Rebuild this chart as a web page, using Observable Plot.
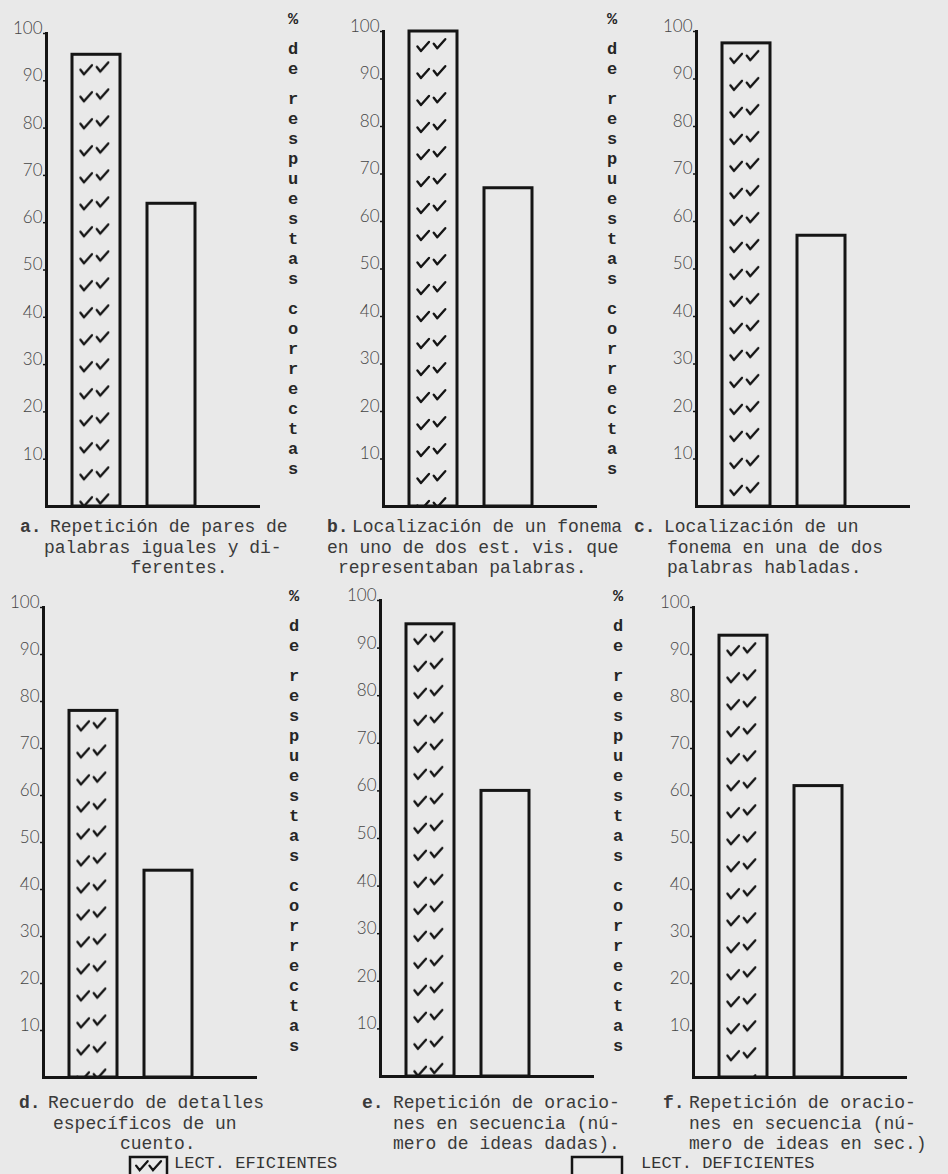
<!DOCTYPE html>
<html>
<head>
<meta charset="utf-8">
<script src="https://cdn.jsdelivr.net/npm/d3@7"></script>
<script src="https://cdn.jsdelivr.net/npm/@observablehq/plot@0.6"></script>
<style>
  html, body { margin: 0; padding: 0; background: #e9e9e9; }
  #fig { position: relative; width: 948px; height: 1174px; overflow: hidden; background: #e9e9e9; }
  .panel { position: absolute; }
  .panel svg { overflow: visible; }
  .cap { position: absolute; font-family: "Liberation Mono", monospace; font-size: 18px; color: #3a3a3a; white-space: pre; line-height: 20.5px; }
  .vlab { position: absolute; width: 18px; font-family: "Liberation Mono", monospace; font-size: 17px; font-weight: bold; color: #262626; text-align: center; }
  .vlab div { height: 20px; line-height: 20px; }
  .vlab .gap { height: 10px; }
  .leg { position: absolute; font-family: "Liberation Mono", monospace; font-size: 17px; color: #333; white-space: pre; }
</style>
</head>
<body>
<div id="fig"></div>
<script>
// ---------------- data ----------------
const panelIds = ["a", "b", "c", "d", "e", "f"];
const groups = ["LECT. EFICIENTES", "LECT. DEFICIENTES"];
const eficientes = [95.5, 100, 97.5, 78, 95, 94];
const deficientes = [64, 67, 57, 44, 60, 62];
const yTicks = [10, 20, 30, 40, 50, 60, 70, 80, 90, 100];
const captionLabels = ["a.", "b.", "c.", "d.", "e.", "f."];
const captionLines = [
  ["Repetición de pares de", "palabras iguales y di-", "        ferentes."],
  ["Localización de un fonema", "en uno de dos est. vis. que", "representaban palabras."],
  ["Localización de un", "fonema en una de dos", "palabras habladas."],
  ["Recuerdo de detalles", "específicos de un", "cuento."],
  ["Repetición de oracio-", "nes en secuencia (nú-", "mero de ideas dadas)."],
  ["Repetición de oracio-", "nes en secuencia (nú-", "mero de ideas en sec.)"]
];
const axisLabelWords = ["%", "de", "respuestas", "correctas"];

// ---------------- layout ----------------
const INK = "#151515";
const FRAME_W = 214;
const M = {l: 44, r: 8, t: 18, b: 6};
const panelLayout = [
  {x: 46,  y: 33,  h: 473},
  {x: 383, y: 31,  h: 475},
  {x: 696, y: 31,  h: 475},
  {x: 43,  y: 607, h: 470},
  {x: 380, y: 600, h: 476},
  {x: 693, y: 607, h: 470}
];
const captionLayout = [
  {lx: 20,  lines: [50, 44, 44],   y: 517},
  {lx: 327, lines: [352, 327, 338], y: 517},
  {lx: 634, lines: [664, 667, 667], y: 517},
  {lx: 19,  lines: [48, 53, 120],  y: 1093},
  {lx: 362, lines: [393, 393, 393], y: 1093},
  {lx: 663, lines: [689, 689, 689], y: 1093}
];
const vlabLayout = [
  {x: 284, y: 10}, {x: 603, y: 10},
  {x: 285, y: 587}, {x: 609, y: 587}
];

const fig = document.getElementById("fig");
const NS = "http://www.w3.org/2000/svg";

function checkPath(w, tileH) {
  const c1x = w * 0.28 - 5, c2x = w * 0.62 - 5;
  return `M${c1x},${tileH * 0.35} l3.5,4.5 l8,-9 ` +
         `M${c2x},${tileH * 0.25} l3.5,4.5 l8,-9`;
}

function addCheckPattern(svg, id) {
  const barGroup = svg.querySelector('g[aria-label="bar"]');
  const rect = barGroup.querySelector("rect");
  const x = +rect.getAttribute("x"), y = +rect.getAttribute("y"), w = +rect.getAttribute("width");
  const tileH = 27;
  const defs = document.createElementNS(NS, "defs");
  const pat = document.createElementNS(NS, "pattern");
  pat.setAttribute("id", "chk-" + id);
  pat.setAttribute("patternUnits", "userSpaceOnUse");
  pat.setAttribute("x", x);
  pat.setAttribute("y", y + 6);
  pat.setAttribute("width", w);
  pat.setAttribute("height", tileH);
  const p = document.createElementNS(NS, "path");
  p.setAttribute("d", checkPath(w, tileH));
  p.setAttribute("fill", "none");
  p.setAttribute("stroke", INK);
  p.setAttribute("stroke-width", "2.4");
  p.setAttribute("stroke-linecap", "round");
  p.setAttribute("stroke-linejoin", "round");
  pat.appendChild(p);
  defs.appendChild(pat);
  svg.insertBefore(defs, svg.firstChild);
}

panelIds.forEach((id, i) => {
  const L = panelLayout[i];
  const rows = groups.map((g, j) => ({group: g, value: j === 0 ? eficientes[i] : deficientes[i]}));
  const svg = Plot.plot({
    width: M.l + FRAME_W + M.r,
    height: M.t + L.h + M.b,
    marginLeft: M.l, marginRight: M.r, marginTop: M.t, marginBottom: M.b,
    style: {background: "transparent", overflow: "visible", fontFamily: "Lato"},
    x: {type: "band", domain: groups, paddingInner: 0.355, paddingOuter: 0.59, align: 0.29, axis: null},
    y: {domain: [0, 100]},
    marks: [
      Plot.barY(rows.filter(d => d.group === groups[0]), {x: "group", y: "value", fill: `url(#chk-${id})`, stroke: INK, strokeWidth: 3}),
      Plot.barY(rows.filter(d => d.group === groups[1]), {x: "group", y: "value", fill: "none", stroke: INK, strokeWidth: 3}),
      Plot.axisY(yTicks, {tickSize: 3, tickFormat: () => "", label: null, stroke: INK, strokeWidth: 1.5}),
      Plot.axisY(yTicks, {tickSize: 0, tickPadding: 4, dy: -5, label: null, fontSize: 17, fill: "#454545", fontFamily: "Lato", fontWeight: 300}),
      Plot.frame({anchor: "left", stroke: INK, strokeWidth: 3}),
      Plot.ruleY([0], {stroke: INK, strokeWidth: 3})
    ]
  });
  const div = document.createElement("div");
  div.className = "panel";
  div.style.left = (L.x - M.l) + "px";
  div.style.top = (L.y - M.t) + "px";
  div.appendChild(svg);
  fig.appendChild(div);
  addCheckPattern(svg, id);

  // caption
  const C = captionLayout[i];
  const lab = document.createElement("div");
  lab.className = "cap";
  lab.style.left = C.lx + "px";
  lab.style.top = C.y + "px";
  lab.style.fontWeight = "bold";
  lab.textContent = captionLabels[i];
  fig.appendChild(lab);
  captionLines[i].forEach((t, k) => {
    const d = document.createElement("div");
    d.className = "cap";
    d.style.left = C.lines[k] + "px";
    d.style.top = (C.y + k * 20.5) + "px";
    d.textContent = t;
    fig.appendChild(d);
  });
});

// vertical axis titles
vlabLayout.forEach(V => {
  const col = document.createElement("div");
  col.className = "vlab";
  col.style.left = V.x + "px";
  col.style.top = V.y + "px";
  axisLabelWords.forEach((w, wi) => {
    if (wi > 0) { const g = document.createElement("div"); g.className = "gap"; col.appendChild(g); }
    for (const ch of w) { const d = document.createElement("div"); d.textContent = ch; col.appendChild(d); }
  });
  fig.appendChild(col);
});

// legend
function legendSwatch(x, y, w, h, checked) {
  const s = document.createElementNS(NS, "svg");
  s.setAttribute("width", w + 4); s.setAttribute("height", h + 4);
  s.style.position = "absolute"; s.style.left = (x - 2) + "px"; s.style.top = (y - 2) + "px";
  s.style.overflow = "visible";
  const r = document.createElementNS(NS, "rect");
  r.setAttribute("x", 2); r.setAttribute("y", 2); r.setAttribute("width", w); r.setAttribute("height", h + 10);
  r.setAttribute("fill", "none"); r.setAttribute("stroke", INK); r.setAttribute("stroke-width", 2.5);
  s.appendChild(r);
  if (checked) {
    const p = document.createElementNS(NS, "path");
    p.setAttribute("d", `M${w*0.22},${h*0.45+3} l3.5,4.5 l8,-9 M${w*0.58},${h*0.45+3} l3.5,4.5 l8,-9`);
    p.setAttribute("fill", "none"); p.setAttribute("stroke", INK); p.setAttribute("stroke-width", 2.3);
    p.setAttribute("stroke-linecap", "round");
    s.appendChild(p);
  }
  fig.appendChild(s);
}
legendSwatch(130, 1157, 37, 17, true);
legendSwatch(572, 1157, 50, 17, false);
const l1 = document.createElement("div"); l1.className = "leg"; l1.style.left = "174px"; l1.style.top = "1154px"; l1.textContent = groups[0]; fig.appendChild(l1);
const l2 = document.createElement("div"); l2.className = "leg"; l2.style.left = "641px"; l2.style.top = "1154px"; l2.textContent = groups[1]; fig.appendChild(l2);
</script>
</body>
</html>
